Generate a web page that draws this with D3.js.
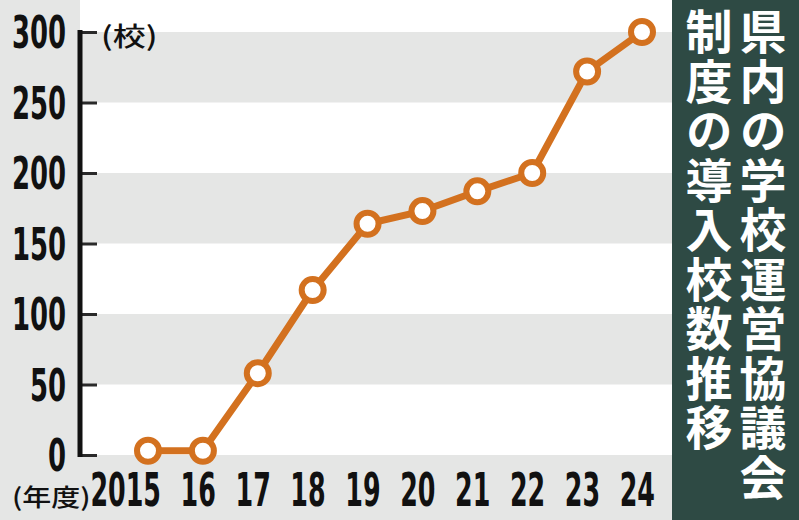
<!DOCTYPE html>
<html>
<head>
<meta charset="utf-8">
<script src="https://cdn.jsdelivr.net/npm/d3@7/dist/d3.min.js"></script>
<style>
  html, body { margin: 0; padding: 0; background: #e5e6e5; }
  svg { display: block; }
</style>
</head>
<body>
<svg id="chart" width="799" height="520"></svg>
<script>
// ---- data ----
const years = ["2015", "16", "17", "18", "19", "20", "21", "22", "23", "24"];
const schools = [3, 3, 58, 117, 164, 173, 187, 200, 272, 300];
const yTicks = [0, 50, 100, 150, 200, 250, 300];
const grayBands = [[50, 100], [150, 200], [250, 300]];
const unitLabel = "(校)";
const yearLabel = "(年度)";
const titleRight = "県内の学校運営協議会";
const titleLeft = "制度の導入校数推移";

// ---- layout ----
const W = 799, H = 520;
const svg = d3.select("#chart");
const numFont = "'Liberation Sans Narrow', 'DejaVu Sans Condensed', 'Arial Narrow', sans-serif";
const cjkFont = "'Noto Sans CJK JP', 'Noto Sans CJK SC', sans-serif";

const y = d3.scaleLinear().domain([0, 300]).range([455, 32]);
const x = d3.scalePoint().domain(years).range([148, 642]);

const axisX = 80;
const plotRight = 672;

// background
svg.append("rect").attr("x", 0).attr("y", 0).attr("width", W).attr("height", H).attr("fill", "#e5e6e5");
svg.append("rect").attr("x", axisX).attr("y", 0).attr("width", plotRight - axisX).attr("height", y(0)).attr("fill", "#ffffff");
svg.selectAll("rect.band").data(grayBands).enter().append("rect")
  .attr("class", "band")
  .attr("x", axisX).attr("width", plotRight - axisX)
  .attr("y", d => y(d[1])).attr("height", d => y(d[0]) - y(d[1]))
  .attr("fill", "#e5e6e5");

// y axis ticks
const yAxis = d3.axisRight(y).tickValues(yTicks).tickSize(17).tickFormat("");
const gAxis = svg.append("g").attr("transform", `translate(${axisX},0)`).call(yAxis);
gAxis.select(".domain").remove();
gAxis.selectAll(".tick line").attr("stroke", "#2a2a2a").attr("stroke-width", 3);
svg.append("line")
  .attr("x1", axisX).attr("x2", axisX)
  .attr("y1", y(300) - 2).attr("y2", y(0) + 2)
  .attr("stroke", "#111").attr("stroke-width", 5);

// y labels
svg.selectAll("text.ylab").data(yTicks).enter().append("text")
  .attr("class", "ylab")
  .attr("transform", d => `translate(66,${y(d) + 16}) scale(0.64,1)`)
  .attr("text-anchor", "end")
  .attr("font-family", numFont).attr("font-weight", "bold")
  .attr("font-size", 45).attr("fill", "#111")
  .text(d => d);

// x labels
svg.selectAll("text.xlab").data(years).enter().append("text")
  .attr("class", "xlab")
  .attr("transform", d => `translate(${x(d) + 13},506) scale(0.6,1)`)
  .attr("text-anchor", "end")
  .attr("font-family", numFont).attr("font-weight", "bold")
  .attr("font-size", 47).attr("fill", "#111")
  .text(d => d);

// unit labels
svg.append("text")
  .attr("transform", "translate(101,46) scale(1,0.8)")
  .attr("font-family", cjkFont).attr("font-weight", 500)
  .attr("font-size", 33).attr("fill", "#111")
  .text(unitLabel);
svg.append("text")
  .attr("transform", "translate(12,506) scale(1,0.84)")
  .attr("font-family", cjkFont).attr("font-weight", 500)
  .attr("font-size", 29).attr("fill", "#111")
  .text(yearLabel);

// line + markers
const data = years.map((yr, i) => ({ yr, v: schools[i] }));
const orange = "#d3711f";
svg.append("path").datum(data)
  .attr("d", d3.line().x(d => x(d.yr)).y(d => y(d.v)))
  .attr("fill", "none").attr("stroke", orange).attr("stroke-width", 7)
  .attr("stroke-linejoin", "round");
svg.selectAll("circle.pt").data(data).enter().append("circle")
  .attr("class", "pt")
  .attr("cx", d => x(d.yr)).attr("cy", d => y(d.v))
  .attr("r", 11).attr("fill", "#fff")
  .attr("stroke", orange).attr("stroke-width", 6);

// title panel
svg.append("rect").attr("x", plotRight).attr("y", 0).attr("width", W - plotRight).attr("height", H).attr("fill", "#2e4a44");
function vertical(str, cx) {
  svg.append("text")
    .attr("x", cx).attr("y", 8)
    .style("writing-mode", "vertical-rl")
    .attr("font-family", cjkFont).attr("font-weight", "bold")
    .attr("font-size", 47).attr("letter-spacing", 2.5)
    .attr("fill", "#ffffff")
    .text(str);
}
vertical(titleRight, 763);
vertical(titleLeft, 709);
</script>
</body>
</html>
